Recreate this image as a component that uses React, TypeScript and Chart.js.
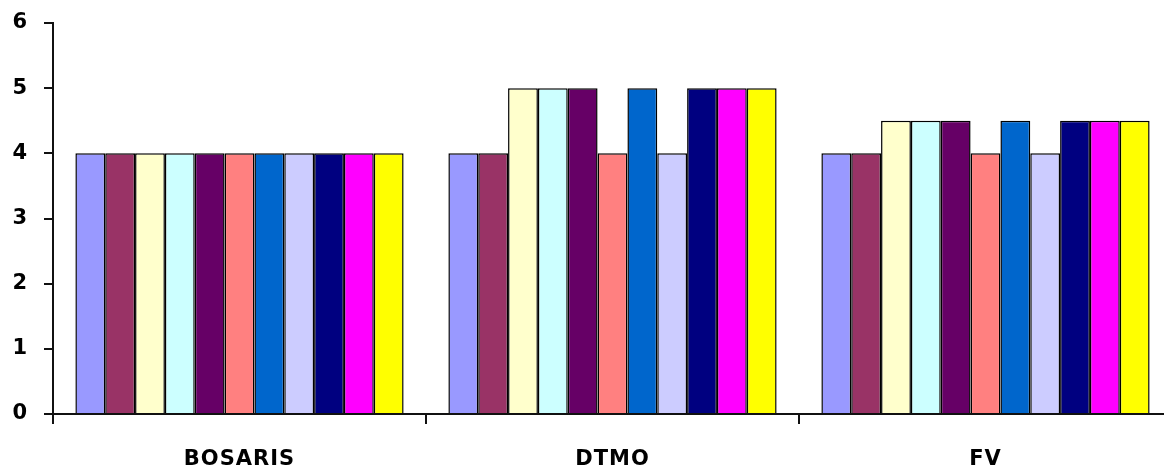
import React, { useEffect, useRef } from "react";
import { Chart, registerables } from "chart.js";

Chart.register(...registerables);

const categories = ["BOSARIS", "DTMO", "FV"];
const seriesNames = ["S1", "S2", "S3", "S4", "S5", "S6", "S7", "S8", "S9", "S10", "S11"];
const seriesColors = [
  "#9999FF", "#993366", "#FFFFCC", "#CCFFFF", "#660066", "#FF8080",
  "#0066CC", "#CCCCFF", "#000080", "#FF00FF", "#FFFF00",
];
// values per series: [BOSARIS, DTMO, FV]
const s1 = [4, 4, 4];
const s2 = [4, 4, 4];
const s3 = [4, 5, 4.5];
const s4 = [4, 5, 4.5];
const s5 = [4, 5, 4.5];
const s6 = [4, 4, 4];
const s7 = [4, 5, 4.5];
const s8 = [4, 4, 4];
const s9 = [4, 5, 4.5];
const s10 = [4, 5, 4.5];
const s11 = [4, 5, 4.5];
const seriesValues = [s1, s2, s3, s4, s5, s6, s7, s8, s9, s10, s11];
const yMin = 0;
const yMax = 6;
const yStep = 1;

const FONT = "'DejaVu Sans', Verdana, sans-serif";

const spacingPlugin = {
  id: "spacing",
  beforeDraw(chart: any) {
    (chart.ctx as any).letterSpacing = "1px";
  },
};

export default function App() {
  const ref = useRef<HTMLCanvasElement | null>(null);
  useEffect(() => {
    if (!ref.current) return;
    const chart = new Chart(ref.current, {
      type: "bar",
      plugins: [spacingPlugin],
      data: {
        labels: categories,
        datasets: seriesNames.map((name, i) => ({
          label: name,
          data: seriesValues[i],
          backgroundColor: seriesColors[i],
          borderColor: "#000000",
          borderWidth: 1.5,
          barPercentage: 1,
          categoryPercentage: 0.88,
        })),
      },
      options: {
        animation: false,
        responsive: false,
        maintainAspectRatio: false,
        layout: { padding: { top: 23, right: 8, left: 0, bottom: 0 } },
        plugins: { legend: { display: false }, tooltip: { enabled: false } },
        scales: {
          x: {
            offset: true,
            grid: {
              offset: true,
              drawOnChartArea: false,
              drawTicks: true,
              tickLength: 10,
              color: "#111111",
              lineWidth: 2,
            },
            border: { display: true, color: "#111111", width: 2 },
            ticks: {
              color: "#000000",
              font: { family: FONT, size: 21, weight: "bold" },
              padding: 23,
              maxRotation: 0,
            },
            afterFit: (scale: any) => {
              scale.height = 60;
              scale.paddingLeft = 0;
              scale.paddingRight = 0;
            },
          },
          y: {
            min: yMin,
            max: yMax,
            grid: {
              drawOnChartArea: false,
              drawTicks: true,
              tickLength: 9,
              color: "#111111",
              lineWidth: 2,
            },
            border: { display: true, color: "#111111", width: 2 },
            ticks: {
              stepSize: yStep,
              color: "#000000",
              font: { family: FONT, size: 21, weight: "bold" },
              padding: 16,
            },
            afterFit: (scale: any) => {
              scale.width = 53;
              scale.paddingTop = 0;
              scale.paddingBottom = 0;
            },
          },
        },
      },
    });
    return () => chart.destroy();
  }, []);
  return (
    <div
      style={{
        position: "fixed",
        left: 0,
        top: 0,
        width: 1164,
        height: 474,
        overflow: "hidden",
        background: "#ffffff",
      }}
    >
      <canvas ref={ref} width={1180} height={474} style={{ display: "block" }} />
    </div>
  );
}
